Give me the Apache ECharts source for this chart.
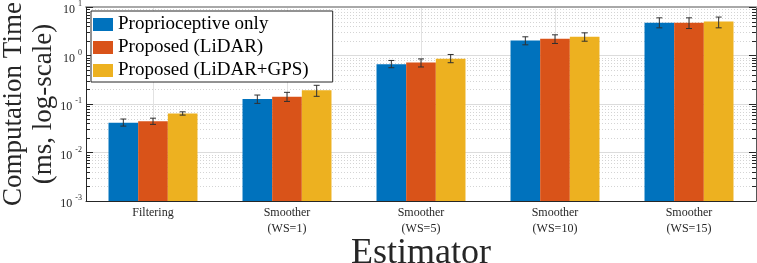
<!DOCTYPE html>
<html>
<head>
<meta charset="utf-8">
<script src="https://cdn.jsdelivr.net/npm/echarts@6/dist/echarts.min.js"></script>
<style>
html,body{margin:0;padding:0;background:#fff;}
#c{width:757px;height:263px;}
</style>
</head>
<body>
<div id="c"></div>
<script>
// ---- data ----
const categories = ['Filtering', 'Smoother\n(WS=1)', 'Smoother\n(WS=5)', 'Smoother\n(WS=10)', 'Smoother\n(WS=15)'];
const seriesNames = ['Proprioceptive only', 'Proposed (LiDAR)', 'Proposed (LiDAR+GPS)'];
const propMean = [0.041, 0.127, 0.66, 2.04, 4.72];
const propLow  = [0.035, 0.103, 0.56, 1.66, 3.72];
const propHigh = [0.049, 0.153, 0.79, 2.43, 5.98];
const lidarMean = [0.044, 0.141, 0.72, 2.21, 4.72];
const lidarLow  = [0.038, 0.113, 0.58, 1.77, 3.60];
const lidarHigh = [0.051, 0.174, 0.85, 2.67, 5.98];
const gpsMean = [0.064, 0.192, 0.855, 2.43, 5.02];
const gpsLow  = [0.059, 0.144, 0.71, 1.97, 3.72];
const gpsHigh = [0.069, 0.243, 1.05, 2.93, 6.20];
const yMin = 0.001, yMax = 10;
const xAxisTitle = 'Estimator';
const yAxisTitle = 'Computation Time\n(ms, log-scale)';

const colors = ['#0072BD', '#D95319', '#EDB120'];
const FONT = 'Liberation Serif';
const CAT_GAP = 0.336;

// minor tick values (2..9 per decade)
const minorValues = [];
for (let e = -3; e < 1; e++) for (let m = 2; m <= 9; m++) minorValues.push(m * Math.pow(10, e));

function buildData(mean, lo, hi) {
  return mean.map((v, i) => [i, v, lo[i], hi[i]]);
}
const groups = [
  buildData(propMean, propLow, propHigh),
  buildData(lidarMean, lidarLow, lidarHigh),
  buildData(gpsMean, gpsLow, gpsHigh)
];

function barRenderer(k) {
  return function (params, api) {
    const cat = api.value(0), val = api.value(1), lo = api.value(2), hi = api.value(3);
    const c0 = api.coord([0, val]), c1 = api.coord([1, val]);
    const band = Math.abs(c1[0] - c0[0]);
    const bw = band * (1 - CAT_GAP) / 3;
    const top = api.coord([cat, val]);
    const base = api.coord([cat, yMin]);
    const x = top[0] + (k - 1) * bw;
    const yLo = api.coord([cat, lo])[1], yHi = api.coord([cat, hi])[1];
    const ec = '#303030', cap = 3;
    return {
      type: 'group',
      children: [
        { type: 'rect', shape: { x: x - bw / 2, y: top[1], width: bw, height: base[1] - top[1] },
          style: { fill: colors[k], stroke: null } },
        { type: 'line', shape: { x1: x, y1: yLo, x2: x, y2: yHi }, style: { stroke: ec, lineWidth: 1 } },
        { type: 'line', shape: { x1: x - cap, y1: yLo, x2: x + cap, y2: yLo }, style: { stroke: ec, lineWidth: 1 } },
        { type: 'line', shape: { x1: x - cap, y1: yHi, x2: x + cap, y2: yHi }, style: { stroke: ec, lineWidth: 1 } }
      ]
    };
  };
}

const chart = echarts.init(document.getElementById('c'), null, { renderer: 'canvas' });

const yLabel = {
  margin: 4,
  formatter: v => '{b|10}{s|' + Math.round(Math.log10(v)) + '}',
  rich: {
    b: { fontFamily: FONT, fontSize: 12, color: '#262626', padding: [6, 0, 0, 0] },
    s: { fontFamily: FONT, fontSize: 8, color: '#262626', padding: [0, 0, 6, 3] }
  }
};

const option = {
  animation: false,
  backgroundColor: '#fff',
  grid: { left: 86, right: 1, top: 7, bottom: 62, containLabel: false, outerBoundsMode: 'none' },
  legend: {
    data: seriesNames.map((n, i) => ({ name: n, icon: 'rect', itemStyle: { color: colors[i] } })),
    orient: 'vertical',
    left: 91, top: 11,
    itemWidth: 20, itemHeight: 13, itemGap: 4,
    padding: [4, 24, 2, 2],
    backgroundColor: '#fff',
    borderColor: '#262626', borderWidth: 1,
    textStyle: { fontFamily: FONT, fontSize: 19, color: '#000', lineHeight: 19 },
    selectedMode: false
  },
  xAxis: [
    {
      type: 'category', data: categories, position: 'bottom',
      axisLine: { lineStyle: { color: '#262626', width: 1 } },
      axisTick: { inside: true, alignWithLabel: true, length: 7, lineStyle: { color: '#262626' } },
      axisLabel: { fontFamily: FONT, fontSize: 12, color: '#262626', lineHeight: 16, margin: 4 },
      splitLine: { show: false },
      name: xAxisTitle, nameLocation: 'middle', nameGap: 35, nameMoveOverlap: false,
      nameTextStyle: { fontFamily: FONT, fontSize: 36, color: '#262626' }
    },
    {
      type: 'category', data: categories, position: 'top',
      axisLine: { lineStyle: { color: '#a8a8a8', width: 2 } },
      axisTick: { inside: true, alignWithLabel: true, length: 7, lineStyle: { color: '#262626' } },
      axisLabel: { show: false },
      splitLine: { show: false }
    }
  ],
  yAxis: [
    {
      type: 'log', logBase: 10, min: yMin, max: yMax, position: 'left',
      axisLine: { show: true, lineStyle: { color: '#262626', width: 1 } },
      axisTick: { show: true, inside: true, length: 7, lineStyle: { color: '#262626' } },
      axisLabel: yLabel,
      splitLine: { show: true, lineStyle: { color: '#dcdcdc', width: 1 } },
      name: yAxisTitle, nameLocation: 'middle', nameRotate: 90, nameGap: 27, nameMoveOverlap: false,
      nameTextStyle: { fontFamily: FONT, fontSize: 27, color: '#262626', lineHeight: 30 }
    },
    {
      type: 'log', logBase: 10, min: yMin, max: yMax, position: 'right',
      axisLine: { show: true, lineStyle: { color: '#555', width: 1 } },
      axisTick: { show: true, inside: true, length: 7, lineStyle: { color: '#262626' } },
      axisLabel: { show: false },
      splitLine: { show: false }
    }
  ],
  series: [
    {
      name: 'grid-minor', type: 'custom', silent: true, z: 0,
      xAxisIndex: 0, yAxisIndex: 0,
      data: minorValues.map(v => [0, v]),
      encode: { x: 0, y: 1 },
      renderItem: function (params, api) {
        const cs = params.coordSys;
        const y = Math.round(api.coord([0, api.value(1)])[1]) + 0.5;
        return {
          type: 'group',
          children: [
            { type: 'line', shape: { x1: cs.x, y1: y, x2: cs.x + cs.width, y2: y },
              style: { stroke: '#d4d4d4', lineWidth: 1, lineDash: [1, 2] } },
            { type: 'line', shape: { x1: cs.x, y1: y, x2: cs.x + 4, y2: y },
              style: { stroke: '#262626', lineWidth: 1 } },
            { type: 'line', shape: { x1: cs.x + cs.width - 4, y1: y, x2: cs.x + cs.width, y2: y },
              style: { stroke: '#262626', lineWidth: 1 } }
          ]
        };
      }
    },
    {
      name: 'grid-x', type: 'custom', silent: true, z: 0,
      xAxisIndex: 0, yAxisIndex: 0,
      data: categories.map((c, i) => [i, yMax]),
      encode: { x: 0, y: 1 },
      renderItem: function (params, api) {
        const cs = params.coordSys;
        const x = Math.round(api.coord([api.value(0), yMax])[0]) + 0.5;
        return { type: 'line', shape: { x1: x, y1: cs.y, x2: x, y2: cs.y + cs.height },
          style: { stroke: '#e2e2e2', lineWidth: 1 } };
      }
    }
  ].concat(seriesNames.map((n, k) => ({
    name: n, type: 'custom', z: 2,
    xAxisIndex: 0, yAxisIndex: 0,
    itemStyle: { color: colors[k] },
    data: groups[k],
    encode: { x: 0, y: [1, 2, 3] },
    renderItem: barRenderer(k)
  })))
};
chart.setOption(option);
</script>
</body>
</html>
